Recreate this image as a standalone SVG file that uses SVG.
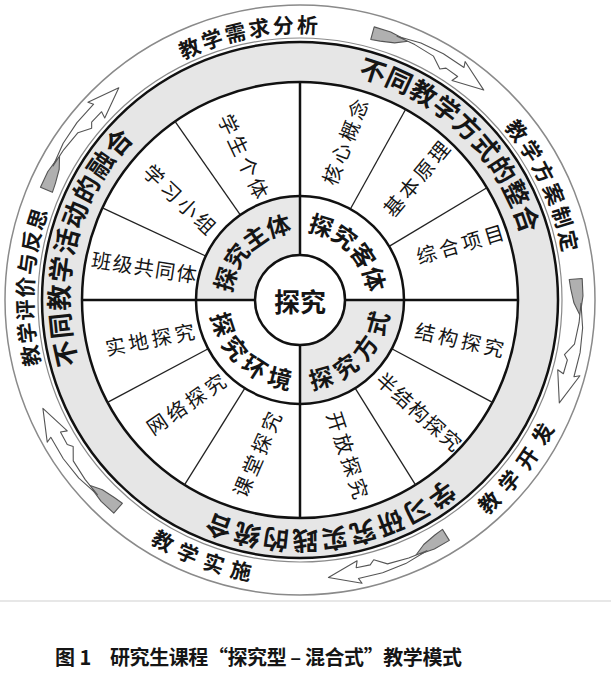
<svg xmlns="http://www.w3.org/2000/svg" width="611" height="676" viewBox="0 0 611 676">
<style>
  text{font-family:"Noto Sans CJK SC","Noto Sans CJK JP",sans-serif;fill:#151515}
  .seg{font-size:20px;text-anchor:middle;dominant-baseline:central;letter-spacing:3.5px}
  .seg5{letter-spacing:1.5px}
  .mid{font-size:24px;font-weight:bold;text-anchor:middle;dominant-baseline:central;letter-spacing:2.7px}
  .band{font-size:26px;font-weight:bold;text-anchor:middle;dominant-baseline:central}
  .outer{font-size:21px;font-weight:bold;text-anchor:middle;dominant-baseline:central}
  .ring{fill:none;stroke:#111;stroke-width:2.5}
  .axis{stroke:#111;stroke-width:2.5}
  .div{stroke:#222;stroke-width:1.3}
  .arr-g{fill:#b0b0b0;stroke:#555;stroke-width:1.1;stroke-linejoin:round}
  .arr-w{fill:#fff;stroke:#555;stroke-width:1.1;stroke-linejoin:round}
  .shade{fill:#e8e8e8}
</style>
<defs>
  <path id="p-b1" d="M193.5,81.6 A243,243 0 0 1 522.0,398.8"/>
  <path id="p-b2" d="M164.1,501.4 A243,243 0 0 1 274.6,58.3"/>
  <path id="p-b3" d="M537.9,349.7 A243,243 0 0 1 85.8,414.8"/>
  <path id="p-m1" d="M223.8,321.0 A79,79 0 0 1 319.9,223.6"/>
  <path id="p-m2" d="M279.6,223.7 A79,79 0 0 1 376.3,320.4"/>
  <path id="p-m3" d="M278.2,375.9 A79,79 0 0 0 376.7,280.9"/>
  <path id="p-m4" d="M223.2,281.4 A79,79 0 0 0 322.3,375.8"/>
  <path id="p-o1" d="M85.2,126.7 A276,276 0 0 1 433.4,58.4"/>
  <path id="p-o2" d="M415.8,49.4 A276,276 0 0 1 566.8,370.5"/>
  <path id="p-o3" d="M357.9,569.9 A276,276 0 0 0 575.8,289.9"/>
  <path id="p-o4" d="M58.6,433.8 A276,276 0 0 0 389.9,561.0"/>
  <path id="p-o5" d="M80.4,467.3 A276,276 0 0 1 97.2,112.8"/>
  <g id="arr">
    <path class="arr-g" d="M283,0 L282.47,17.28 L278.10,36.61 L272.96,23.88 L270.83,9.46 L270,0 Z"/>
    <path class="arr-w" d="M279.93,24.49 L279.69,49.32 L275.29,73.76 L267.34,97.30 L273.37,96.80 L250.76,122.30 L251.68,89.13 L257.01,93.54 L262.03,80.11 L259.54,74.42 L270.32,64.90 L276.55,43.80 Z"/>
  </g>
</defs>

<rect width="611" height="676" fill="#fff"/>

<g id="frame">
  <circle cx="300" cy="300" r="295" fill="none" stroke="#8a8a8a" stroke-width="1.5"/>
  <circle cx="300" cy="300" r="262" fill="none" stroke="#8a8a8a" stroke-width="1.2"/>
  <circle cx="300" cy="300" r="238" fill="none" stroke="#e6e6e6" stroke-width="40"/>
  <circle class="ring" cx="300" cy="300" r="258"/>
  <circle cx="300" cy="300" r="218" fill="#fff" stroke="#111" stroke-width="2.5"/>
  <line x1="0" y1="601" x2="611" y2="601" stroke="#d0d0d0" stroke-width="1.2"/>
</g>

<g id="quadrant-shading">
  <path class="shade" d="M300,196 A104,104 0 0 0 196,300 L255,300 A45,45 0 0 1 300,255 Z"/>
  <path class="shade" d="M300,404 A104,104 0 0 0 404,300 L345,300 A45,45 0 0 1 300,345 Z"/>
</g>

<g id="connectors">
  <line class="axis" x1="300" y1="82" x2="300" y2="255"/>
  <line class="axis" x1="300" y1="345" x2="300" y2="518"/>
  <line class="axis" x1="82" y1="300" x2="255" y2="300"/>
  <line class="axis" x1="345" y1="300" x2="518" y2="300"/>
  <line class="div" x1="205.7" y1="256.0" x2="102.4" y2="207.9"/>
  <line class="div" x1="240.3" y1="214.8" x2="175.0" y2="121.4"/>
  <line class="div" x1="350.4" y1="209.0" x2="405.7" y2="109.3"/>
  <line class="div" x1="389.1" y1="246.4" x2="486.9" y2="187.7"/>
  <line class="div" x1="391.8" y1="348.8" x2="492.5" y2="402.4"/>
  <line class="div" x1="355.1" y1="388.2" x2="415.5" y2="484.9"/>
  <line class="div" x1="244.9" y1="388.2" x2="184.5" y2="484.9"/>
  <line class="div" x1="208.2" y1="348.8" x2="107.5" y2="402.4"/>
  <g id="cycle-arrows">
    <use href="#arr" transform="translate(300 300) rotate(203.5)"/>
    <use href="#arr" transform="translate(300 300) rotate(285.2)"/>
    <use href="#arr" transform="translate(300 300) rotate(-4.35)"/>
    <use href="#arr" transform="translate(300 300) rotate(58.15)"/>
    <use href="#arr" transform="translate(300 300) rotate(131.15)"/>
  </g>
</g>

<g id="middle-rings">
  <circle class="ring" cx="300" cy="300" r="104"/>
  <circle cx="300" cy="300" r="45" fill="#fff" stroke="#111" stroke-width="2.5"/>
</g>

<g id="node-core"><text x="300" y="300" style="font-size:26px;font-weight:bold;text-anchor:middle;dominant-baseline:central">探究</text></g>

<g id="node-subject"><text class="mid"><textPath href="#p-m1" startOffset="84.1">探究主体</textPath></text></g>
<g id="node-object"><text class="mid"><textPath href="#p-m2" startOffset="84.1">探究客体</textPath></text></g>
<g id="node-method"><text class="mid"><textPath href="#p-m3" startOffset="84.1">探究方式</textPath></text></g>
<g id="node-environment"><text class="mid"><textPath href="#p-m4" startOffset="84.1">探究环境</textPath></text></g>

<g id="node-student"><text class="seg" x="245" y="157.5" transform="rotate(65 245 157.5)">学生个体</text></g>
<g id="node-group"><text class="seg" x="181.5" y="200" transform="rotate(43.5 181.5 200)">学习小组</text></g>
<g id="node-class"><text class="seg seg5" x="145" y="266.5" transform="rotate(8.8 145 266.5)">班级共同体</text></g>
<g id="node-concept"><text class="seg" x="345" y="140" transform="rotate(-68.5 345 140)">核心概念</text></g>
<g id="node-principle"><text class="seg" x="417" y="177" transform="rotate(-50.2 417 177)">基本原理</text></g>
<g id="node-project"><text class="seg" x="461.5" y="243" transform="rotate(-16.6 461.5 243)">综合项目</text></g>
<g id="node-structured"><text class="seg" x="461.5" y="339.5" transform="rotate(12.6 461.5 339.5)">结构探究</text></g>
<g id="node-semi"><text class="seg seg5" x="420" y="411.5" transform="rotate(41.7 420 411.5)">半结构探究</text></g>
<g id="node-open"><text class="seg" x="349" y="456.5" transform="rotate(71.8 349 456.5)">开放探究</text></g>
<g id="node-field"><text class="seg" x="151.5" y="338.5" transform="rotate(-11 151.5 338.5)">实地探究</text></g>
<g id="node-online"><text class="seg" x="187" y="402.5" transform="rotate(-34.3 187 402.5)">网络探究</text></g>
<g id="node-classroom"><text class="seg" x="257" y="452.5" transform="rotate(-66.5 257 452.5)">课堂探究</text></g>

<g id="node-band-methods"><text class="band" style="letter-spacing:1.9px"><textPath href="#p-b1" startOffset="297.9">不同教学方式的整合</textPath></text></g>
<g id="node-band-activities"><text class="band" style="letter-spacing:2.5px"><textPath href="#p-b2" startOffset="298.2">不同教学活动的融合</textPath></text></g>
<g id="node-band-practice"><text class="band" style="letter-spacing:3.5px"><textPath href="#p-b3" startOffset="298.7">学习研究实践的统合</textPath></text></g>

<g id="node-needs"><text class="outer" style="letter-spacing:3.3px"><textPath href="#p-o1" startOffset="194.4">教学需求分析</textPath></text></g>
<g id="node-plan"><text class="outer" style="letter-spacing:3.6px"><textPath href="#p-o2" startOffset="194.5">教学方案制定</textPath></text></g>
<g id="node-develop"><text class="outer" style="letter-spacing:8px"><textPath href="#p-o3" startOffset="196.7">教学开发</textPath></text></g>
<g id="node-implement"><text class="outer" style="letter-spacing:6.8px"><textPath href="#p-o4" startOffset="196.1">教学实施</textPath></text></g>
<g id="node-evaluate"><text class="outer" style="letter-spacing:2.1px"><textPath href="#p-o5" startOffset="193.8">教学评价与反思</textPath></text></g>

<g id="caption">
  <text x="55" y="665" style="font-size:20px;font-weight:bold">图 1</text>
  <text x="110" y="665" style="font-size:20px;font-weight:bold" textLength="352" lengthAdjust="spacing">研究生课程“探究型 – 混合式”教学模式</text>
</g>
</svg>
